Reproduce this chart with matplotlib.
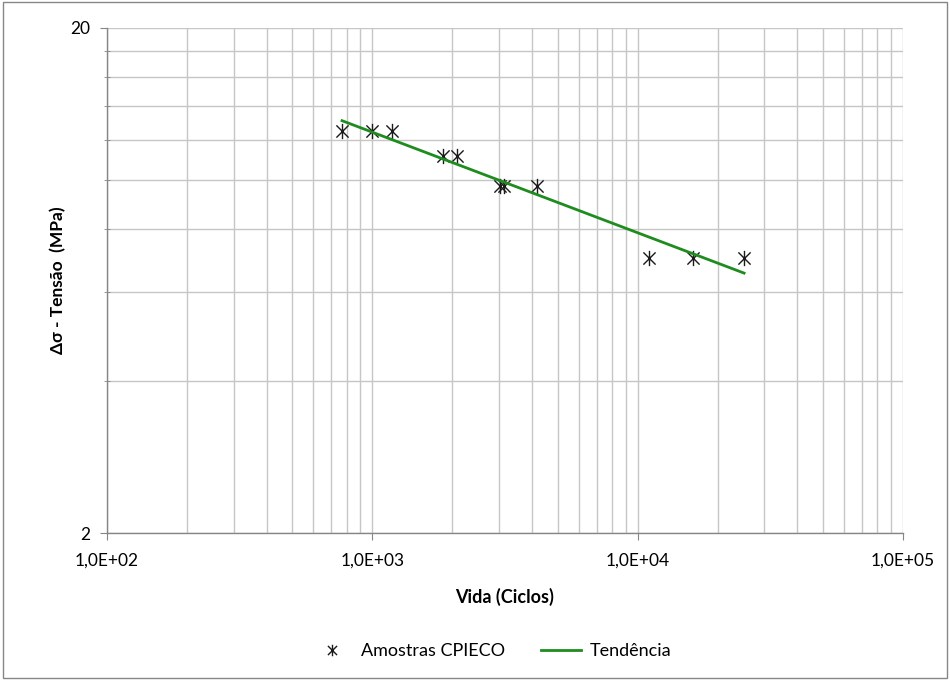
import numpy as np
import matplotlib
matplotlib.use("Agg")
import matplotlib.pyplot as plt
from matplotlib.path import Path
from matplotlib.ticker import FixedLocator, NullFormatter, FixedFormatter
from matplotlib.patches import Rectangle

plt.rcParams['font.family'] = ['Lato', 'DejaVu Sans']

# Fatigue test results: life (cycles) vs stress range (MPa)
ciclos = [769, 1000, 1186, 1849, 2084, 3027, 3131, 4176, 11040, 16180, 25180]
tensao = [12.5, 12.5, 12.5, 11.15, 11.15, 9.75, 9.75, 9.75, 7.0, 7.0, 7.0]

x_ticks = [1e2, 1e3, 1e4, 1e5]
x_tick_labels = ["1,0E+02", "1,0E+03", "1,0E+04", "1,0E+05"]
y_ticks = [2, 20]
y_tick_labels = ["2", "20"]

serie_label = "Amostras CPIECO"
trend_label = "Tendência"

# Power-law trend line (linear fit in log-log space)
lx, ly = np.log10(ciclos), np.log10(tensao)
b, a = np.polyfit(lx, ly, 1)
xt = np.array([min(ciclos), max(ciclos)])
yt = 10 ** (a + b * np.log10(xt))

# Star marker: vertical bar crossed by an X
star = Path([(0, -1), (0, 1), (-0.8, -0.8), (0.8, 0.8), (-0.8, 0.8), (0.8, -0.8)],
            [Path.MOVETO, Path.LINETO, Path.MOVETO, Path.LINETO, Path.MOVETO, Path.LINETO])

fig = plt.figure(figsize=(9.5, 6.8), dpi=100)
ax = fig.add_axes([107 / 950, 1 - 533 / 680, (903 - 107) / 950, (533 - 28) / 680])

ax.set_xscale('log')
ax.set_yscale('log')
ax.set_xlim(1e2, 1e5)
ax.set_ylim(2, 20)

grid_c = '#c6c6c6'
# minor gridlines
xminor = [m * 10 ** e for e in (2, 3, 4) for m in range(2, 10)]
yminor = list(range(4, 20, 2))
ax.xaxis.set_major_locator(FixedLocator(x_ticks))
ax.xaxis.set_major_formatter(FixedFormatter(x_tick_labels))
ax.xaxis.set_minor_locator(FixedLocator(xminor))
ax.xaxis.set_minor_formatter(NullFormatter())
ax.yaxis.set_major_locator(FixedLocator(y_ticks))
ax.yaxis.set_major_formatter(FixedFormatter(y_tick_labels))
ax.yaxis.set_minor_locator(FixedLocator(yminor))
ax.yaxis.set_minor_formatter(NullFormatter())

ax.grid(True, which='both', color=grid_c, linewidth=1.0)
ax.set_axisbelow(True)

for s in ('top', 'right'):
    ax.spines[s].set_visible(False)
for s in ('left', 'bottom'):
    ax.spines[s].set_color('#868686')
    ax.spines[s].set_linewidth(1.0)

ax.tick_params(axis='both', which='major', length=5, color='#868686', labelsize=12.5,
               labelcolor='black')
ax.tick_params(axis='x', which='major', pad=9)
ax.tick_params(axis='y', which='major', pad=7)
ax.tick_params(axis='y', which='minor', length=4, color='#868686', direction='inout')
ax.tick_params(axis='x', which='minor', length=0)

ax.plot(ciclos, tensao, linestyle='none', marker=star, markersize=11,
        markeredgecolor='#1a1a1a', markerfacecolor='none', markeredgewidth=1.0,
        label=serie_label, zorder=3)
ax.plot(xt, yt, color='#1e8c1e', linewidth=2.0, label=trend_label, zorder=4)

ax.set_xlabel("Vida (Ciclos)", fontsize=13, fontweight='bold', labelpad=14)
ax.set_ylabel("Δσ - Tensão  (MPa)", fontsize=12.5, fontweight='bold', labelpad=3)

leg = fig.legend(loc='center', bbox_to_anchor=(492 / 950, 1 - 651 / 680), ncol=2,
                 frameon=False, fontsize=13, handlelength=2.2, columnspacing=2.0,
                 handletextpad=0.5, markerscale=0.75)

fig.patches.append(Rectangle((0.003, 0.003), 0.994, 0.994, transform=fig.transFigure,
                             fill=False, edgecolor='#868686', linewidth=1.0))

fig.savefig("out.png", dpi=100, facecolor='white')
